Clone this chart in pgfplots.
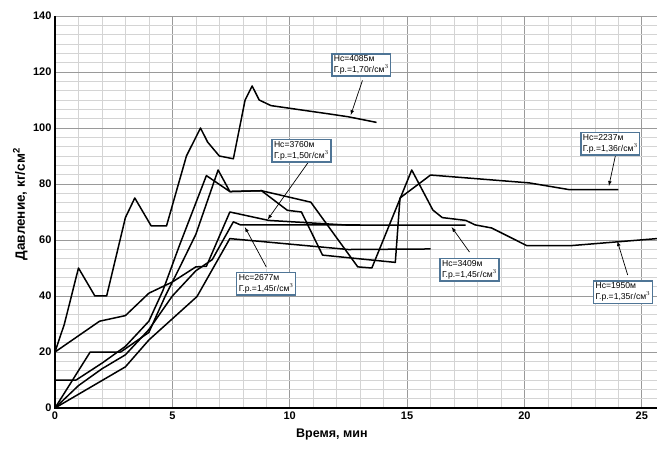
\documentclass[border=0pt]{standalone}
\usepackage{pgfplots}
\pgfplotsset{compat=1.18}
\usepackage{fontspec}
\setmainfont{Liberation Sans}
\definecolor{boxc}{HTML}{4F7596}
\definecolor{majg}{HTML}{9A9A9A}
\definecolor{ming}{HTML}{D4D4D4}
\tikzset{crv/.style={black, solid, line width=1.5pt, line join=round, mark=none}}
\begin{document}
\begin{tikzpicture}
\begin{axis}[
  name=ax,
  scale only axis, width=602pt, height=392pt,
  xmin=0, xmax=25.65, ymin=0, ymax=140,
  xtick={0,5,...,25}, ytick={0,20,...,140},
  minor x tick num=4, minor y tick num=5,
  grid=both,
  major grid style={majg, line width=0.6pt},
  minor grid style={ming, line width=0.5pt},
  axis line style={majg, line width=0.6pt},
  tick style={draw=none},
  ticklabel style={font=\fontsize{11}{12}\selectfont\bfseries},
  /pgf/number format/assume math mode=true,
  xlabel={Время, мин}, ylabel={Давление, кг/см$^{\mathbf 2}$},
  xlabel style={font=\fontsize{12.5}{14}\selectfont\bfseries, at={(axis description cs:0.46,0)}, anchor=north, yshift=-17pt},
  ylabel style={font=\fontsize{13.5}{15}\selectfont\bfseries, at={(axis description cs:0,0.52)}, anchor=south, yshift=24pt},
  clip=false,
]
% Hc=4085
\addplot[crv] coordinates {(0,20)(0.4,30)(1,50)(1.7,40)(2.2,40)(3,68)(3.4,75)(4.1,65)(4.75,65)(5.6,90)(6.2,100)(6.5,95)(7,90)(7.6,89)(8.1,110)(8.4,115)(8.7,110)(9.2,108)(11.7,105)(12.5,104)(13.7,102)};
% Hc=3760
\addplot[crv] coordinates {(0,20)(1.9,31)(3,33)(4,41)(5,45)(6,50.4)(6.45,50.6)(7.45,70)(9.1,67)(12.5,65.3)(17.5,65.3)};
% Hc=2677
\addplot[crv] coordinates {(0,0)(1,8)(2,14)(3,19)(4,28)(5,40)(6,49)(6.7,53)(7.6,66.5)(7.9,65.4)(13,65.4)};
% Hc=3409
\addplot[crv] coordinates {(0,0)(3,14.7)(4,24.3)(6.05,39.8)(7.45,60.5)(12.5,56.6)(16,56.8)};
% Hc=1950
\addplot[crv] coordinates {(0,10)(0.9,10)(2,16)(3,22)(4,31)(4.6,42)(5.3,58)(6.45,83)(7.45,77.3)(8.8,77.6)(10.9,73.5)(12.9,50.4)(13.5,50)(15.2,85)(16.1,70.7)(16.5,68)(17.5,67)(17.9,65.4)(18.6,64.3)(20.1,58)(22,58)(25.65,60.5)};
% Hc=2237
\addplot[crv] coordinates {(0,0)(1.5,20)(2.8,20)(4,27)(4.7,40)(5.3,50)(6.0,62)(6.95,85)(7.45,77.3)(8.8,77.6)(9.9,70.6)(10.5,70)(11.4,54.6)(14.5,52)(14.7,75)(16,83.2)(20.2,80.4)(21.9,78)(24,78)};
% annotations
\tikzset{lab/.style={draw=boxc, line width=1.3pt, fill=white, inner xsep=2pt, inner ysep=2pt, align=left, font=\fontsize{8.6}{10.5}\selectfont},
         arr/.style={-latex, line width=0.7pt}}
\draw[arr] (axis cs:13.1,117) -- (axis cs:12.6,104.6);
\node[lab] at (axis cs:13.05,122.5) {Нс=4085м\\Г.р.=1,70г/см$^3$};
\draw[arr] (axis cs:10.77,87.5) -- (axis cs:9.06,67.3);
\node[lab] at (axis cs:10.5,91.8) {Нс=3760м\\Г.р.=1,50г/см$^3$};
\draw[arr] (axis cs:23.9,91) -- (axis cs:23.6,79.3);
\node[lab] at (axis cs:23.66,94.3) {Нс=2237м\\Г.р.=1,36г/см$^3$};
\draw[arr] (axis cs:9.0,50.4) -- (axis cs:8.09,64.6);
\node[lab] at (axis cs:9.0,44.3) {Нс=2677м\\Г.р.=1,45г/см$^3$};
\draw[arr] (axis cs:17.66,55.7) -- (axis cs:16.9,64.6);
\node[lab] at (axis cs:17.66,49.3) {Нс=3409м\\Г.р.=1,45г/см$^3$};
\draw[arr] (axis cs:24.4,47.5) -- (axis cs:23.96,59.6);
\node[lab] at (axis cs:24.2,41.4) {Нс=1950м\\Г.р.=1,35г/см$^3$};
\draw[black, line width=1.2pt] (rel axis cs:0,1) -- (rel axis cs:0,0) -- (rel axis cs:1,0);
\end{axis}
\pgfresetboundingbox
\path[use as bounding box] ([xshift=-55pt,yshift=-44pt]ax.south west) rectangle ([yshift=16pt]ax.north east);
\end{tikzpicture}
\end{document}
